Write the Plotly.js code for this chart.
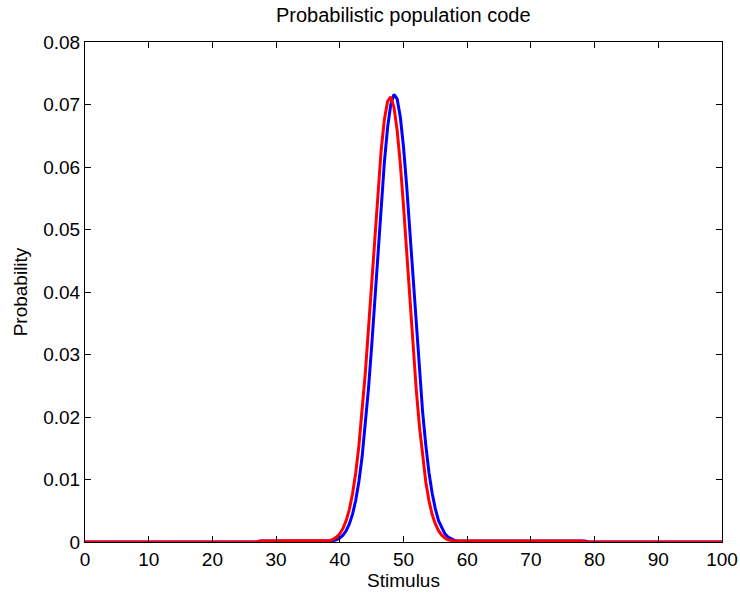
<!DOCTYPE html>
<html>
<head>
<meta charset="utf-8">
<script src="https://cdn.plot.ly/plotly-3.0.1.min.js"></script>
<style>
  html, body { margin: 0; padding: 0; background: #fff; }
  #chart { width: 740px; height: 593px; }
</style>
</head>
<body>
<div id="chart"></div>
<script>
// Stimulus values (step 0.5 around the peak; flat stretches given by their end points)
const blueStimulus = [0, 27, 27.5,
  38, 38.5, 39, 39.5, 40, 40.5, 41, 41.5, 42, 42.5, 43, 43.5, 44, 44.5, 45, 45.5,
  46, 46.5, 47, 47.5, 48, 48.5, 49, 49.5, 50, 50.5, 51, 51.5, 52, 52.5, 53, 53.5,
  54, 54.5, 55, 55.5, 56, 56.5, 57, 57.5, 58, 58.5, 59,
  78.5, 79, 100];
const blueProb = [0, 0, 0.00015,
  0.00015, 0.00015, 0.0002, 0.00037, 0.00064, 0.00109, 0.0018, 0.0029, 0.00445, 0.00667, 0.00969, 0.01363, 0.01857, 0.0245, 0.0313, 0.0388,
  0.0465, 0.0541, 0.0608, 0.0663, 0.0700, 0.0716, 0.0709, 0.0680, 0.0632, 0.0569, 0.0496, 0.0419, 0.0343, 0.0271, 0.0208, 0.0155,
  0.0111, 0.0078, 0.0053, 0.0034, 0.0022, 0.0013, 0.0008, 0.00046, 0.00026, 0.00015, 0.00015,
  0.00015, 0, 0];

const redStimulus = [0, 27, 27.5,
  38, 38.5, 39, 39.5, 40, 40.5, 41, 41.5, 42, 42.5, 43, 43.5, 44, 44.5, 45, 45.5,
  46, 46.5, 47, 47.5, 48, 48.5, 49, 49.5, 50, 50.5, 51, 51.5, 52, 52.5, 53, 53.5,
  54, 54.5, 55, 55.5, 56, 56.5, 57, 57.5, 58,
  78, 78.5, 100];
const redProb = [0, 0, 0.00015,
  0.00015, 0.00025, 0.00046, 0.00079, 0.00133, 0.00217, 0.00342, 0.00523, 0.00773, 0.01109, 0.0154, 0.0207, 0.0270, 0.0341, 0.0417, 0.0493,
  0.0566, 0.0628, 0.0676, 0.0705, 0.0712, 0.0696, 0.0659, 0.0605, 0.0538, 0.0463, 0.0386, 0.0312, 0.0244, 0.0185, 0.0136, 0.0096,
  0.0066, 0.0044, 0.0029, 0.0018, 0.0011, 0.00064, 0.00036, 0.0002, 0.00015,
  0.00015, 0, 0];

const xTicks = [0, 10, 20, 30, 40, 50, 60, 70, 80, 90, 100];
const yTicks = [0, 0.01, 0.02, 0.03, 0.04, 0.05, 0.06, 0.07, 0.08];
const yTickText = ['0', '0.01', '0.02', '0.03', '0.04', '0.05', '0.06', '0.07', '0.08'];

const FONT = 'Liberation Sans, Arial, Helvetica, sans-serif';

const traces = [
  { x: blueStimulus, y: blueProb, type: 'scatter', mode: 'lines',
    line: { color: '#0000ff', width: 3 }, hoverinfo: 'skip' },
  { x: redStimulus, y: redProb, type: 'scatter', mode: 'lines',
    line: { color: '#ff0000', width: 3 }, hoverinfo: 'skip' }
];

const axisCommon = {
  showgrid: false, zeroline: false,
  showline: true, linecolor: '#000', linewidth: 1, mirror: 'ticks',
  ticks: 'inside', ticklen: 6, tickcolor: '#000', tickwidth: 1,
  tickfont: { family: FONT, size: 19, color: '#000' }
};

const layout = {
  width: 740, height: 593,
  margin: { l: 85, r: 18, t: 42, b: 51 },
  paper_bgcolor: '#fff', plot_bgcolor: '#fff',
  showlegend: false,
  title: { text: 'Probabilistic population code', x: 0.545, xanchor: 'center',
           y: 0.975, yanchor: 'middle', font: { family: FONT, size: 20, color: '#000' } },
  xaxis: Object.assign({}, axisCommon, {
    range: [0, 100], tickvals: xTicks, ticktext: xTicks.map(String),
    title: { text: 'Stimulus', standoff: 2, font: { family: FONT, size: 19, color: '#000' } }
  }),
  yaxis: Object.assign({}, axisCommon, {
    range: [0, 0.08], tickvals: yTicks, ticktext: yTickText,
    title: { text: 'Probability', standoff: 10, font: { family: FONT, size: 19, color: '#000' } }
  })
};

Plotly.newPlot('chart', traces, layout, { staticPlot: true, displayModeBar: false });
</script>
</body>
</html>
